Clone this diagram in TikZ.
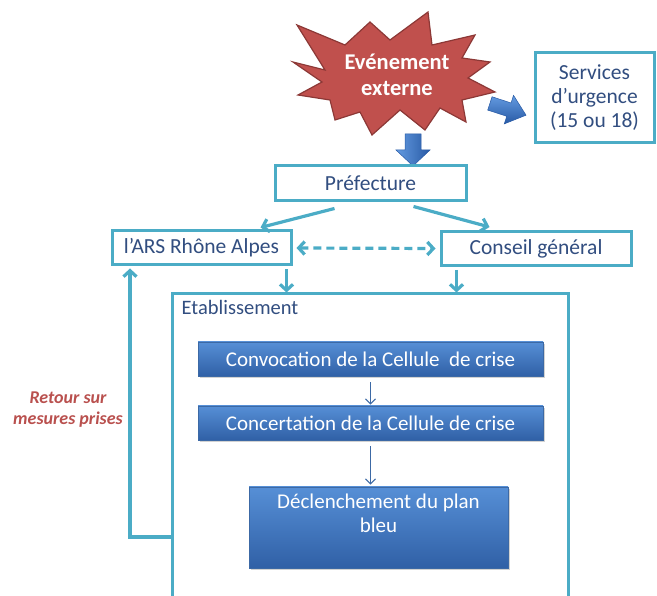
\documentclass[tikz,border=0pt]{standalone}
\usepackage{fontspec}
\setmainfont{Carlito}
\usetikzlibrary{arrows.meta,shadows,calc}
\definecolor{tealc}{RGB}{75,172,198}
\definecolor{navytext}{RGB}{50,78,128}
\definecolor{boxblueT}{RGB}{86,143,214}
\definecolor{boxblueB}{RGB}{48,96,166}
\definecolor{boxedge}{RGB}{60,105,165}
\definecolor{starred}{RGB}{192,80,77}
\definecolor{stardark}{RGB}{140,56,54}
\definecolor{retourc}{RGB}{185,80,78}
\definecolor{arrowblueL}{RGB}{100,155,225}
\definecolor{arrowblueD}{RGB}{40,90,165}
\begin{document}
\begin{tikzpicture}[x=1pt,y=-1pt,
  tbox/.style={draw=tealc, line width=3pt, fill=white, text=navytext,
    font=\fontsize{21.5}{24}\selectfont, inner sep=0pt,
    drop shadow={opacity=0.25,shadow xshift=1.5pt,shadow yshift=-1.5pt}},
  bbox/.style={draw=boxedge, line width=0.6pt, top color=boxblueT, bottom color=boxblueB,
    text=white, font=\fontsize{21}{25}\selectfont, inner sep=0pt,
    drop shadow={opacity=0.35,shadow xshift=1.5pt,shadow yshift=-2pt}},
  tarrow/.style={draw=tealc, line width=3.2pt, -{Straight Barb[length=6pt,width=13pt]}},
  barrow/.style={draw=boxedge, line width=1.2pt, -{Straight Barb[length=5pt,width=10pt]}},
]
\useasboundingbox (0,0) rectangle (657,596);
\clip (0,0) rectangle (657,596);

% starburst
\draw[fill=starred, draw=stardark, line width=1.2pt, line join=miter]
  (293,62) -- (325,70) -- (297,25) -- (345,45) -- (370,22) -- (390,40) -- (428,12)
  -- (432,45) -- (475,35) -- (462,58) -- (490,62) -- (468,78) -- (495,92)
  -- (462,100) -- (466,122) -- (440,108) -- (425,130) -- (400,110) -- (372,135)
  -- (360,112) -- (335,120) -- (330,100) -- (298,95) -- (322,82) -- cycle;
\node[text=white, font=\bfseries\fontsize{22.5}{26}\selectfont, align=center] (evt) at (397,75) {Evénement\\externe};

% block arrow down
\shade[left color=arrowblueL, right color=arrowblueD, draw=arrowblueD, line width=0.5pt]
  (405,134) -- (421,134) -- (421,150) -- (430,150) -- (413,166) -- (396,150) -- (405,150) -- cycle;
% block arrow right
\begin{scope}[shift={(507,109)}, rotate=-18]
\shade[top color=arrowblueL, bottom color=arrowblueD, draw=arrowblueD, line width=0.5pt]
  (-18,-7) -- (2,-7) -- (2,-15) -- (20,0) -- (2,15) -- (2,7) -- (-18,7) -- cycle;
\end{scope}

% boxes
\node[tbox, minimum width=119, minimum height=90, align=center] (serv) at (594.5,98) {Services\\d’urgence\\(15 ou 18)};
\node[tbox, minimum width=191, minimum height=35] (pref) at (370.5,183.5) {Préfecture};
\node[tbox, minimum width=179, minimum height=34] (ars) at (201.5,248) {l’ARS Rhône Alpes};
\node[tbox, minimum width=190, minimum height=34] (cons) at (536,248.5) {Conseil général};
\node[tbox, minimum width=396, minimum height=330] (etab) at (370,459) {};
\node[anchor=north west, text=navytext, font=\fontsize{20.5}{24}\selectfont, inner sep=0pt] (etablabel) at ($(etab.north west)+(11,8)$) {Etablissement};

\node[bbox, minimum width=345, minimum height=34] (conv) at (370.5,359) {Convocation de la Cellule\ \ de crise};
\node[bbox, minimum width=345, minimum height=34] (conc) at (370.5,423) {Concertation de la Cellule de crise};
\node[bbox, minimum width=259, minimum height=81,
  label={[text=white, font=\fontsize{21}{24}\selectfont, align=center, anchor=north, yshift=-4pt]north:Déclenchement du plan\\bleu}] (decl) at (378.5,527.5) {};

\node[text=retourc, font=\bfseries\itshape\fontsize{18}{21}\selectfont, align=center] (ret) at (68,410) {Retour sur\\mesures prises};

% connectors
\draw[tarrow] ($(pref.south west)+(61,6)$) -- ($(ars.north west)+(150,-2)$);
\draw[tarrow] ($(pref.south west)+(140,4)$) -- ($(cons.north west)+(50,-3)$);
\draw[tarrow, {Straight Barb[length=6pt,width=13pt]}-{Straight Barb[length=6pt,width=13pt]}, dash pattern=on 8pt off 5pt]
  ($(ars.east)+(4,0)$) -- ($(cons.west)+(-4,0)$);
\coordinate (arsout) at ($(ars.south east)+(-6,3)$);
\coordinate (consout) at ($(cons.south west)+(17,3)$);
\draw[tarrow] (arsout) -- (arsout |- etab.north);
\draw[tarrow] (consout) -- (consout |- etab.north);
\coordinate (fb) at (130,537);
\draw[tarrow, line join=miter] (etab.west |- fb) -- (fb) -- ($(fb |- ars.south)+(0,2)$);

\draw[barrow] ($(conv.south)+(0,6)$) -- ($(conc.north)+(0,-1)$);
\draw[barrow] ($(conc.south)+(0,6)$) -- ($(conc.south |- decl.north)+(0,-2)$);
\end{tikzpicture}
\end{document}
